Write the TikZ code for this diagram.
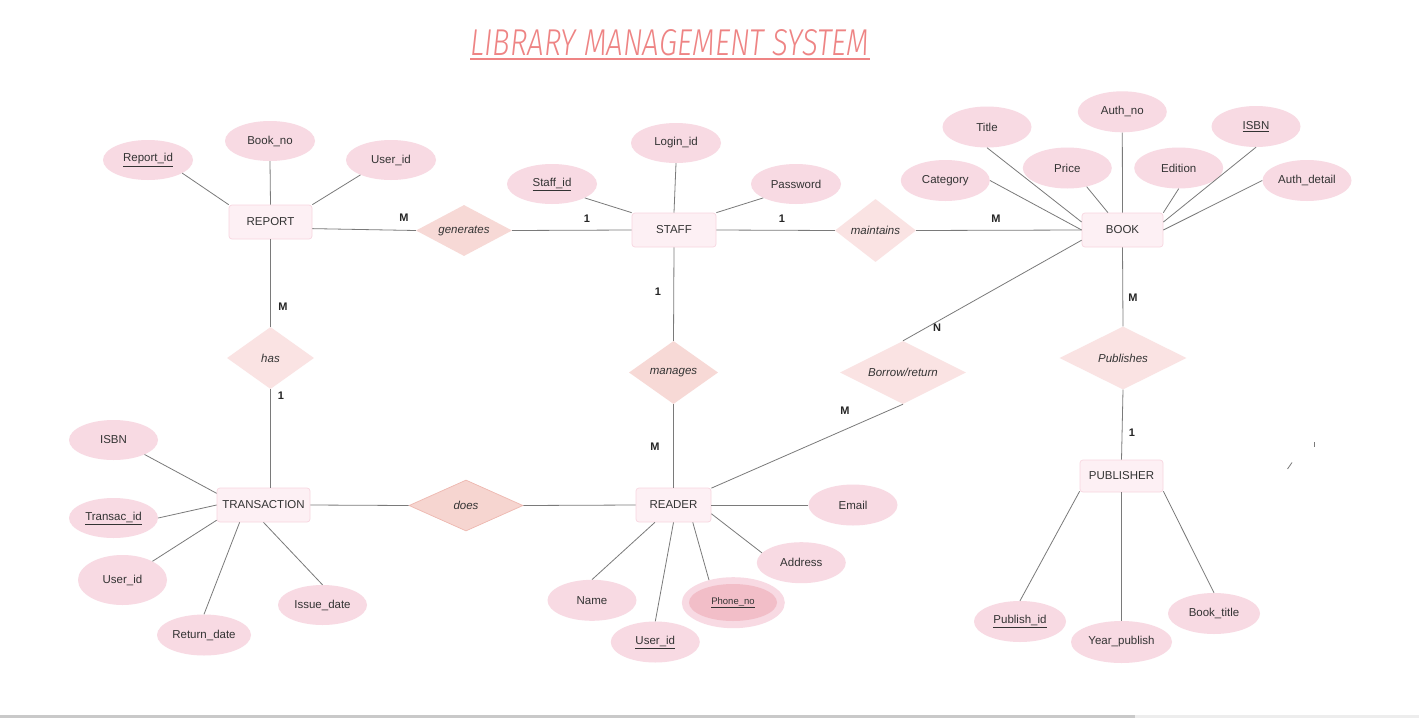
\documentclass[tikz,border=0pt]{standalone}
\usepackage{fontspec}
\setmainfont{Liberation Sans}
\newfontfamily\titlefont{Fira Sans Light}[ItalicFont={Fira Sans Light Italic}]
\usetikzlibrary{shapes.geometric,calc}
\definecolor{entfill}{HTML}{FDF0F4}
\definecolor{entline}{HTML}{F8D6E0}
\definecolor{attrfill}{HTML}{F8DAE3}
\definecolor{phonein}{HTML}{F2BEC8}
\definecolor{relfill}{HTML}{FAE3E3}
\definecolor{relfillb}{HTML}{F7D9D6}
\definecolor{doesfill}{HTML}{F6D5D0}
\definecolor{doesline}{HTML}{EEB8B0}
\definecolor{linegray}{HTML}{7A7A7A}
\definecolor{txt}{HTML}{333333}
\definecolor{titlecol}{HTML}{EE8484}
\begin{document}
\begin{tikzpicture}[x=1pt,y=-1pt,
  every node/.style={text=txt, font=\fontsize{11.5}{13}\selectfont},
  ent/.style={draw=entline, fill=entfill, rounded corners=3pt, minimum height=34, inner sep=0, line width=0.7pt},
  attr/.style={ellipse, fill=attrfill, minimum width=90, minimum height=40, inner sep=0},
  rel/.style={diamond, fill=relfill, inner sep=0, aspect=1.6, font=\fontsize{11.5}{13}\selectfont\itshape},
  conn/.style={draw=linegray, line width=0.8pt},
  card/.style={inner sep=0, font=\fontsize{11}{13}\selectfont\bfseries, text=black!85}]
\useasboundingbox (0,0) rectangle (1419,718);
\fill[white] (0,0) rectangle (1419,718);
\fill[black!21] (0,715) rectangle (1135,718);
\fill[black!7] (1135,715) rectangle (1419,718);

% title
\node[inner sep=0, text=titlecol] (title) at (670,43) {\resizebox{399pt}{26pt}{\titlefont\itshape LIBRARY MANAGEMENT SYSTEM}};
\draw[titlecol, line width=2.6pt] ($(title.south west)+(0,2.5)$) -- ($(title.south east)+(0,2.5)$);

% entities
\node[ent, minimum width=83] (report) at (270.5,222) {REPORT};
\node[ent, minimum width=84] (staff) at (674,230) {STAFF};
\node[ent, minimum width=81] (book) at (1122.5,230) {BOOK};
\node[ent, minimum width=93] (trans) at (263.5,505) {TRANSACTION};
\node[ent, minimum width=75] (reader) at (673.5,505) {READER};
\node[ent, minimum width=83, minimum height=32] (publisher) at (1121.5,476) {PUBLISHER};

% relationships
\node[rel, fill=relfillb, minimum width=96, minimum height=51] (generates) at (464,230.5) {generates};
\node[rel, minimum width=81, minimum height=63] (maintains) at (875.5,230.5) {maintains};
\node[rel, minimum width=87, minimum height=62] (has) at (270.5,358) {has};
\node[rel, fill=relfillb, minimum width=89, minimum height=63] (manages) at (673.5,372.5) {manages};
\node[rel, minimum width=126, minimum height=63] (borrow) at (903,372.5) {Borrow/return};
\node[rel, minimum width=127, minimum height=63] (publishes) at (1123,358) {Publishes};
\node[rel, fill=doesfill, draw=doesline, line width=0.7pt, minimum width=114, minimum height=51] (does) at (466,505.5) {does};

% attributes REPORT
\node[attr] (reportid) at (148,160) {\underline{Report\_id}};
\node[attr] (bookno) at (270,141) {Book\_no};
\node[attr] (ruserid) at (391,160) {User\_id};
% STAFF
\node[attr] (loginid) at (676,143) {Login\_id};
\node[attr] (staffid) at (552,184) {\underline{Staff\_id}};
\node[attr] (password) at (796,184) {Password};
% BOOK
\node[attr, minimum width=89, minimum height=41] (title) at (987,127) {Title};
\node[attr, minimum width=89, minimum height=41] (authno) at (1122.3,111.8) {Auth\_no};
\node[attr, minimum width=89, minimum height=41] (isbn) at (1256,126.5) {\underline{ISBN}};
\node[attr, minimum width=89, minimum height=41] (price) at (1067.3,168) {Price};
\node[attr, minimum width=89, minimum height=41] (edition) at (1178.7,168) {Edition};
\node[attr, minimum width=89, minimum height=41] (category) at (945.3,180.5) {Category};
\node[attr, minimum width=89, minimum height=41] (authdetail) at (1307,180.5) {Auth\_detail};
% TRANSACTION
\node[attr, minimum width=89] (tisbn) at (113.5,440) {ISBN};
\node[attr, minimum width=89] (transacid) at (113.5,518) {\underline{Transac\_id}};
\node[attr, minimum width=89, minimum height=50] (tuserid) at (122.5,580) {User\_id};
\node[attr, minimum width=94, minimum height=41] (returndate) at (204,635) {Return\_date};
\node[attr, minimum width=89] (issuedate) at (322.5,605) {Issue\_date};
% READER
\node[attr, minimum width=89, minimum height=41] (email) at (853,505) {Email};
\node[attr, minimum width=89, minimum height=41] (address) at (801.3,562.7) {Address};
\node[attr, minimum width=89, minimum height=41] (name) at (592,600.3) {Name};
\node[attr, minimum width=89, minimum height=41] (ruser2) at (655.3,642) {\underline{User\_id}};
\node[attr, minimum width=103, minimum height=51] (phoneout) at (733.3,602.7) {};
\node[attr, fill=phonein, minimum width=88, minimum height=37, font=\fontsize{9.5}{11}\selectfont] (phone) at (733,602.5) {\underline{Phone\_no}};
% PUBLISHER
\node[attr, minimum width=92, minimum height=41] (publishid) at (1020,621.5) {\underline{Publish\_id}};
\node[attr, minimum width=101, minimum height=42] (yearpublish) at (1121.5,642) {Year\_publish};
\node[attr, minimum width=92, minimum height=41] (booktitle) at (1214,613.5) {Book\_title};

% attribute connectors
\draw[conn] (reportid.-21) -- (report.north west);
\draw[conn] (bookno.south) -- (report.north);
\draw[conn] (ruserid.-154) -- (report.north east);
\draw[conn] (loginid.south) -- (staff.north);
\draw[conn] (staffid.-23) -- (staff.north west);
\draw[conn] (password.-157) -- (staff.north east);
\draw[conn] (category.east) -- (book.west);
\draw[conn] (title.south) -- (book.169);
\draw[conn] (price.-44) -- (book.130);
\draw[conn] (authno.south) -- (book.north);
\draw[conn] (edition.south) -- (book.23);
\draw[conn] (isbn.south) -- (book.11);
\draw[conn] (authdetail.west) -- (book.east);
\draw[conn] (tisbn.-25) -- (trans.166);
\draw[conn] (transacid.east) -- (trans.west);
\draw[conn] (tuserid.32) -- (trans.-162);
\draw[conn] (returndate.north) -- (trans.-144);
\draw[conn] (issuedate.north) -- (trans.south);
\draw[conn] (email.west) -- (reader.east);
\draw[conn] (address.166) -- (reader.-13);
\draw[conn] (phoneout.137) -- (reader.-42);
\draw[conn] (name.north) -- (reader.-137);
\draw[conn] (ruser2.north) -- (reader.south);
\draw[conn] (publishid.north) -- (publisher.-160);
\draw[conn] (yearpublish.north) -- (publisher.south);
\draw[conn] (booktitle.north) -- (publisher.-20);

% relationship connectors
\draw[conn] (report.-9) -- (generates.west);
\draw[conn] (generates.east) -- (staff.west);
\draw[conn] (staff.east) -- (maintains.west);
\draw[conn] (maintains.east) -- (book.west);
\draw[conn] (report.south) -- (has.north);
\draw[conn] (has.south) -- (has.south |- trans.north);
\draw[conn] (staff.south) -- (manages.north);
\draw[conn] (manages.south) -- (reader.north);
\draw[conn] (book.-166) -- (borrow.north);
\draw[conn] (borrow.south) -- (reader.24);
\draw[conn] (book.south) -- (publishes.north);
\draw[conn] (publishes.south) -- (publisher.north);
\draw[conn] (trans.east) -- (does.west);
\draw[conn] (does.east) -- (reader.west);

% cardinalities
\node[card] (c1) at (404,218) {M};
\node[card] (c2) at (587,219) {1};
\node[card] (c3) at (782,219) {1};
\node[card] (c4) at (996,219) {M};
\node[card] (c5) at (283,307) {M};
\node[card] (c6) at (281,396) {1};
\node[card] (c7) at (658,292) {1};
\node[card] (c8) at (655,447) {M};
\node[card] (c9) at (937,328) {N};
\node[card] (c10) at (845,411) {M};
\node[card] (c11) at (1133,298) {M};
\node[card] (c12) at (1132,433) {1};

% stray marks
\draw[linegray, line width=0.8pt] (1287.5,469) -- (1292,462.5);
\draw[linegray, line width=0.8pt] (1314.5,442) -- (1314.5,446.5);
\end{tikzpicture}
\end{document}
